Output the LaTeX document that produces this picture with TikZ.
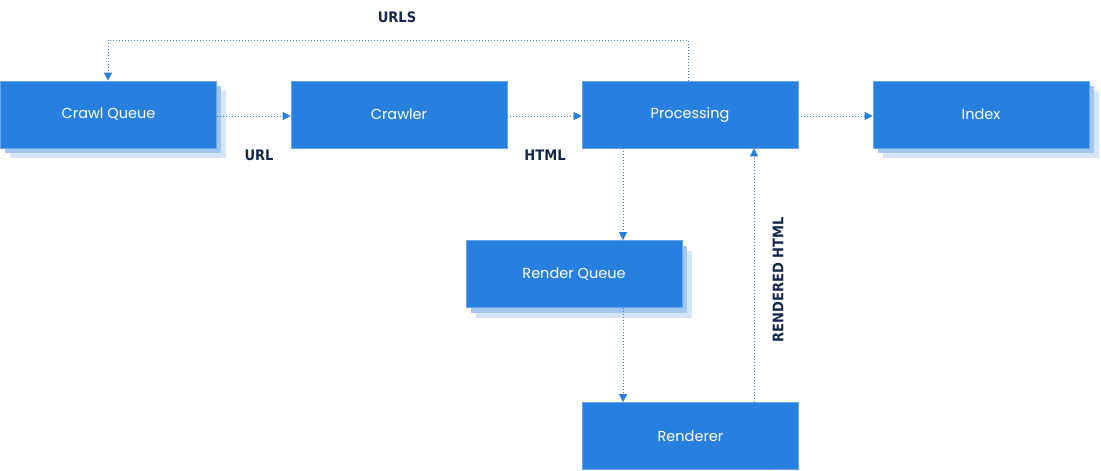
\documentclass[tikz,border=0pt]{standalone}
\usepackage{fontspec}
\setmainfont{Poppins}
\newfontfamily\labfont{DejaVu Sans Condensed}
\usetikzlibrary{arrows.meta}
\definecolor{boxc}{HTML}{277FE0}
\definecolor{sh1}{HTML}{A3C6F1}
\definecolor{sh2}{HTML}{D4E5F9}
\definecolor{navy}{HTML}{13294B}
\begin{document}
\begin{tikzpicture}[x=1pt,y=-1pt,
  box/.style={fill=boxc,draw=boxc!70!white,line width=0.6pt,minimum width=216pt,minimum height=67pt,inner sep=0pt,text=white,font=\fontsize{14.5}{16}\selectfont},
  arr/.style={draw=boxc,line width=0.9pt,dash pattern=on 1pt off 2pt,-{Triangle[length=8pt,width=8pt]}},
  lab/.style={text=navy,font=\labfont\bfseries\fontsize{14.5}{16}\selectfont,inner sep=0pt}]
\useasboundingbox (0,0) rectangle (1101,471);
\newcommand\shad[2]{%
 \fill[sh2] (#1+10,#2+10) rectangle ++(216,67);
 \fill[sh1] (#1+5,#2+5) rectangle ++(216,67);}
\shad{0}{81}\shad{873}{81}\shad{466}{241}
\node[box] (cq) at (108.5,114.5) {Crawl Queue};
\node[box] (cr) at (399,114.5) {Crawler};
\node[box] (pr) at (690,114.5) {Processing};
\node[box] (ix) at (981,114.5) {Index};
\node[box] (rq) at (574,274) {Render Queue};
\node[box] (rd) at (690.5,436) {Renderer};
\coordinate (c1) at (688,40);
\coordinate (c2) at (108,40);
\draw[arr] (cq.east |- 0,116) -- (cr.west |- 0,116);
\draw[arr] (cr.east |- 0,116) -- (pr.west |- 0,116);
\draw[arr] (pr.east |- 0,116) -- (ix.west |- 0,116);
\draw[arr] (pr.north -| c1) -- (c1) -- (c2) -- (cq.north -| c2);
\draw[arr] (pr.south -| 623,0) -- (rq.north -| 623,0);
\draw[arr] (rq.south -| 623,0) -- (rd.north -| 623,0);
\draw[arr] (rd.north -| 754,0) -- (pr.south -| 754,0);
\node[lab] (l1) at (397,17) {URLS};
\node[lab] (l2) at (259,155) {URL};
\node[lab] (l3) at (545,155) {HTML};
\node[lab,rotate=90] (l4) at (778,280) {RENDERED HTML};
\end{tikzpicture}
\end{document}
